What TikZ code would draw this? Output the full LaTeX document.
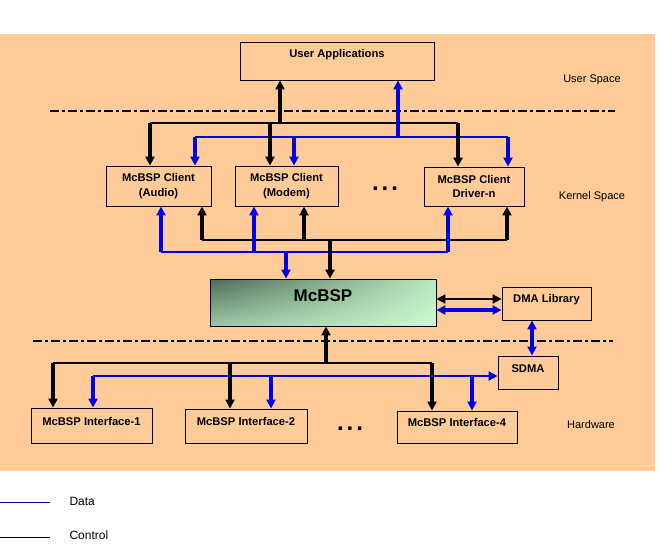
\documentclass[tikz,border=0pt]{standalone}
\usepackage{fontspec}
\setmainfont{Liberation Sans}
\usetikzlibrary{arrows.meta,shadings}
\definecolor{peach}{RGB}{255,204,153}
\definecolor{dblue}{RGB}{0,0,230}
\definecolor{navy}{RGB}{0,0,140}
\definecolor{gUL}{RGB}{80,105,90}
\definecolor{gLL}{RGB}{155,200,165}
\definecolor{gUR}{RGB}{185,232,190}
\definecolor{gLR}{RGB}{205,250,205}
\begin{document}
\begin{tikzpicture}[x=1pt,y=-1pt,
 box/.style={draw=black,line width=0.9pt,inner sep=0pt,font=\bfseries\fontsize{11.2}{14.5}\selectfont},
 ctl/.style={draw=black,line width=1.5pt},
 ctla/.style={draw=black,line width=3.2pt,-{Triangle[length=9pt,width=9pt]}},
 dat/.style={draw=dblue,line width=1.5pt},
 data/.style={draw=dblue,line width=3.2pt,-{Triangle[length=9pt,width=9pt]}},
 sep/.style={line width=2.2pt,dash pattern=on 9pt off 3pt on 3pt off 3pt},
 region/.style={font=\fontsize{11}{13}\selectfont},
 dots/.style={font=\bfseries\fontsize{24}{24}\selectfont},
 legend/.style={anchor=west,font=\fontsize{12}{14}\selectfont}]
\useasboundingbox (0,0) rectangle (660,556);
\fill[white] (0,0) rectangle (660,556);
\fill[peach] (0,34) rectangle (655,471);

% separators
\draw[sep] (50,111) -- (615,111);
\draw[sep] (33,341) -- (613,341);

% boxes
\node[box, minimum width=194pt, text height=16pt, text depth=22pt] (ua) at (337,61) {User Applications};
\node[box, align=center, minimum width=105pt, minimum height=40pt] (audio) at (158.5,186) {McBSP Client\\(Audio)};
\node[box, align=center, minimum width=103pt, minimum height=40pt] (modem) at (286.5,186) {McBSP Client\\(Modem)};
\node[box, align=center, minimum width=100pt, minimum height=39pt] (drv) at (474,186.5) {McBSP Client\\Driver-n};
\node[box, minimum width=226pt, text height=22pt, text depth=25pt,
      font=\bfseries\fontsize{17}{20}\selectfont,
      upper left=gUL, lower left=gLL, upper right=gUR, lower right=gLR] (mcbsp) at (323,302.5) {McBSP};
\node[box, minimum width=89pt, text height=15pt, text depth=18pt] (dma) at (546.5,303.5) {DMA Library};
\node[box, minimum width=60pt, text height=16pt, text depth=17pt] (sdma) at (528,372.5) {SDMA};
\node[box, minimum width=121pt, text height=17pt, text depth=18pt] (if1) at (91.5,425.5) {McBSP Interface-1};
\node[box, minimum width=122pt, text height=16.5pt, text depth=17.5pt] (if2) at (246,426) {McBSP Interface-2};
\node[box, minimum width=120pt, text height=15pt, text depth=17pt] (if4) at (457,427) {McBSP Interface-4};

% region labels and dots
\node[region] (us) at (592,80) {User Space};
\node[region] (ks) at (592,197) {Kernel Space};
\node[region] (hw) at (591,425) {Hardware};
\node[dots] (dots1) at (385,189) {.\hspace{3pt}.\hspace{3pt}.};
\node[dots] (dots2) at (350,429) {.\hspace{3pt}.\hspace{3pt}.};

% top control bus
\coordinate (cU) at (280,123);
\coordinate (cA) at (150,123);
\coordinate (cM) at (270,123);
\coordinate (cD) at (458,123);
\draw[ctl] (cA) -- (cD);
% top data bus
\coordinate (dU) at (398,137);
\coordinate (dA) at (195,137);
\coordinate (dM) at (294,137);
\coordinate (dD) at (508,137);
\draw[dat] (dA) -- (dD);
\draw[ctla] (cU) -- (cU |- ua.south);
\draw[ctla] (cA) -- (cA |- audio.north);
\draw[ctla] (cM) -- (cM |- modem.north);
\draw[ctla] (cD) -- (cD |- drv.north);
\draw[data] (dU) -- (dU |- ua.south);
\draw[data] (dA) -- (dA |- audio.north);
\draw[data] (dM) -- (dM |- modem.north);
\draw[data] (dD) -- (dD |- drv.north);

% lower kernel buses
\coordinate (fA) at (202,240);
\coordinate (fM) at (304,240);
\coordinate (fD) at (507,240);
\coordinate (fC) at (330,240);
\coordinate (eA) at (161,252);
\coordinate (eM) at (254,252);
\coordinate (eD) at (448,252);
\coordinate (eC) at (286,252);
\draw[ctl] (fA) -- (fD);
\draw[dat] (eA) -- (eD);
\draw[data] (eA) -- (eA |- audio.south);
\draw[data] (eM) -- (eM |- modem.south);
\draw[data] (eD) -- (eD |- drv.south);
\draw[data] (eC) -- (eC |- mcbsp.north);
\draw[ctla] (fA) -- (fA |- audio.south);
\draw[ctla] (fM) -- (fM |- modem.south);
\draw[ctla] (fD) -- (fD |- drv.south);
\draw[ctla] (fC) -- (fC |- mcbsp.north);

% McBSP <-> DMA Library
\draw[draw=black,line width=2pt,{Triangle[length=9pt,width=9pt]}-{Triangle[length=9pt,width=9pt]}]
  ([yshift=3.5pt]mcbsp.east) -- ([yshift=3.5pt]mcbsp.east -| dma.west);
\draw[draw=dblue,line width=3.2pt,{Triangle[length=9pt,width=9pt]}-{Triangle[length=9pt,width=9pt]}]
  ([yshift=-7.5pt]mcbsp.east) -- ([yshift=-7.5pt]mcbsp.east -| dma.west);
\coordinate (vx) at (532,338);
\draw[draw=dblue,line width=3.2pt,{Triangle[length=9pt,width=9pt]}-{Triangle[length=9pt,width=9pt]}]
  (vx |- dma.south) -- (vx |- sdma.north);

% hardware buses
\coordinate (gC) at (326,363);
\coordinate (g1) at (53,363);
\coordinate (g2) at (230,363);
\coordinate (g4) at (432,363);
\coordinate (h1) at (93,376);
\coordinate (h2) at (271,376);
\coordinate (h4) at (472,376);
\draw[ctl] (g1) -- (g4);
\draw[draw=dblue,line width=2.4pt,-{Triangle[length=9pt,width=9pt]}] (h1) -- (h1 -| sdma.west);
\draw[ctla] (gC) -- (gC |- mcbsp.south);
\draw[ctla] (g1) -- (g1 |- if1.north);
\draw[ctla] (g2) -- (g2 |- if2.north);
\draw[ctla] (g4) -- (g4 |- if4.north);
\draw[data] (h1) -- (h1 |- if1.north);
\draw[data] (h2) -- (h2 |- if2.north);
\draw[data] (h4) -- (h4 |- if4.north);

% legend
\draw[navy, line width=1pt] (0,502) -- (50,502);
\node[legend] (ldata) at (66,501) {Data};
\draw[black, line width=1pt] (0,537) -- (50,537);
\node[legend] (lctl) at (66,535) {Control};
\end{tikzpicture}
\end{document}
